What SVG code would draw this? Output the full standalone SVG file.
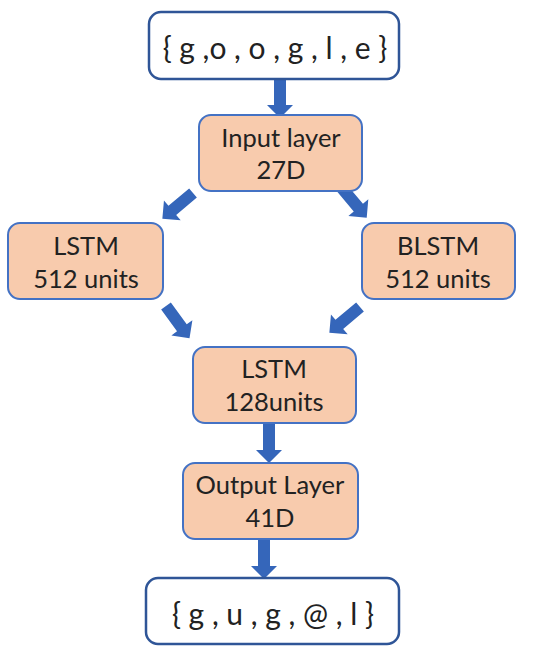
<svg xmlns="http://www.w3.org/2000/svg" width="550" height="654" viewBox="0 0 550 654">
<style>
.io{fill:#fff;stroke:#2F5597;stroke-width:2.5}
.nd{fill:#F8CBAD;stroke:#4472C4;stroke-width:2}
.t{font-family:Lato,"Open Sans",sans-serif;font-size:25.5px;fill:#222;text-anchor:middle}
.b{font-family:Lato,"Open Sans",sans-serif;font-size:30px;fill:#222;text-anchor:middle}
.ar{fill:#3566BA}
</style>
<defs>
<path id="arr" d="M-6,0 L6,0 L6,27 L13,27 L0,40 L-13,27 L-6,27 Z"/>
</defs>
<rect width="550" height="654" fill="#fff"/>
<g id="connectors" class="ar">
<use href="#arr" transform="translate(280,78)"/>
<use href="#arr" transform="translate(193,193) rotate(50)"/>
<use href="#arr" transform="translate(341,187) rotate(-40)"/>
<use href="#arr" transform="translate(166,306) rotate(-36)"/>
<use href="#arr" transform="translate(360,307) rotate(50)"/>
<use href="#arr" transform="translate(269,423)"/>
<use href="#arr" transform="translate(264,539)"/>
</g>
<g id="input-seq">
<rect class="io" x="149" y="12" width="250" height="67" rx="12"/>
<text class="b" x="275" y="59">{ g ,o , o , g , l , e }</text>
</g>
<g id="input-layer">
<rect class="nd" x="199" y="115" width="163" height="76" rx="12"/>
<text class="t" x="281" y="147">Input layer</text>
<text class="t" x="281" y="179">27D</text>
</g>
<g id="lstm512">
<rect class="nd" x="8" y="223" width="155" height="76" rx="12"/>
<text class="t" x="86" y="255">LSTM</text>
<text class="t" x="86" y="288">512 units</text>
</g>
<g id="blstm512">
<rect class="nd" x="362" y="223" width="153" height="76" rx="12"/>
<text class="t" x="438" y="255">BLSTM</text>
<text class="t" x="438" y="288">512 units</text>
</g>
<g id="lstm128">
<rect class="nd" x="193" y="347" width="163" height="76" rx="12"/>
<text class="t" x="274" y="378">LSTM</text>
<text class="t" x="274" y="411">128units</text>
</g>
<g id="output-layer">
<rect class="nd" x="183" y="463" width="175" height="76" rx="12"/>
<text class="t" x="270" y="494">Output Layer</text>
<text class="t" x="270" y="527">41D</text>
</g>
<g id="output-seq">
<rect class="io" x="146" y="578" width="253" height="66" rx="12"/>
<text class="b" x="273" y="625">{ g , u , g , @ , l }</text>
</g>
</svg>
